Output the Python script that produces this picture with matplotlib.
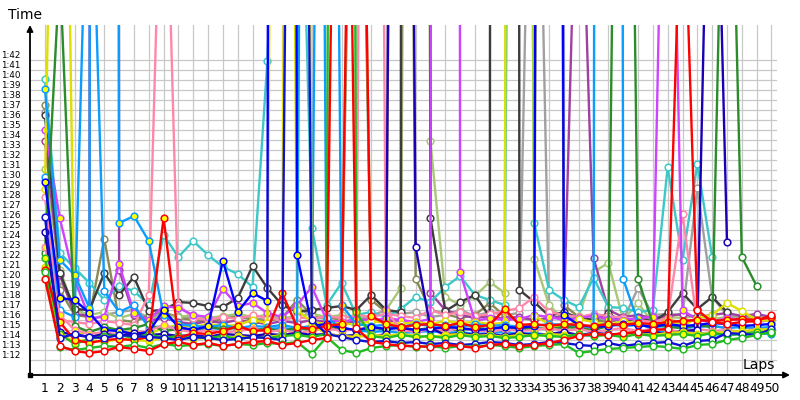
import numpy as np
import matplotlib
matplotlib.use('Agg')
import matplotlib.pyplot as plt

# lap times in seconds, one list per driver (None = retired)
laps = list(range(1, 51))

red_w = [80.1, 73.4, 72.9, 72.7, 72.9, 73.3, 73.1, 72.9, 73.6, 73.8,
         73.5, 73.7, 73.4, 73.6, 73.8, 73.9, 73.5, 73.7, 74.0, 74.2,
         185, 75.2, 73.8, 73.6, 73.4, 73.4, 73.3, 73.5, 73.4, 73.2,
         73.5, 73.6, 73.4, 73.5, 73.7, 74.0, 74.4, 74.6, 74.5, 74.7,
         74.8, 75.0, 75.1, 124, 77.0, 75.8, 75.6, 75.8, 75.9, 76.5]
red_y = [81.0, 75.8, 74.0, 73.7, 74.0, 74.1, 74.0, 74.3, 86.2, 74.2,
         74.7, 74.6, 74.9, 75.4, 74.9, 75.0, 78.7, 75.3, 75.1, 75.4,
         75.6, 176, 76.4, 75.6, 75.3, 75.5, 75.6, 75.4, 75.7, 75.3,
         75.5, 77.1, 75.5, 75.6, 75.4, 75.6, 75.5, 75.4, 75.6, 75.5,
         75.7, 75.6, 75.8, 75.9, 76.0, 75.9, 76.0, 76.1, 76.0, 76.3]
navy_w = [86.3, 74.2, 74.6, 74.3, 74.2, 74.5, 74.4, 74.3, 74.2, 74.0,
          74.3, 74.2, 74.0, 74.1, 74.3, 74.2, 74.0, 240, 76.0, 74.6,
          74.3, 74.0, 73.8, 73.9, 73.7, 73.8, 73.6, 73.7, 73.5, 73.6,
          73.8, 73.7, 73.5, 73.6, 73.8, 73.7, 73.5, 73.4, 73.7, 73.4,
          73.6, 73.7, 73.8, 73.4, 73.9, 74.0, 74.7, 74.6, 74.5, 75.1]
blue_y = [89.8, 78.2, 78.0, 76.7, 75.0, 74.9, 74.6, 74.8, 77.0, 75.3,
          75.0, 75.4, 81.9, 76.8, 78.7, 77.9, 900, 82.5, 75.4, 75.6,
          75.2, 75.0, 75.3, 75.1, 75.2, 75.0, 75.1, 75.3, 75.2, 75.0,
          75.1, 75.3, 75.2, 75.4, 600, 76.5, 75.5, 75.3, 75.4, 75.6,
          75.5, 75.3, 75.6, 75.4, 75.5, 75.7, 75.6, 75.4, 75.5, 75.6]
navy_2 = [84.8, 74.8, 74.5, 74.3, 74.6, 74.4, 74.7, 74.5, 74.6, 74.4,
          74.5, 74.3, 74.6, 74.5, 74.4, 74.6, 74.5, 74.7, 74.5, 74.6,
          74.4, 74.5, 74.3, 74.6, 300, 83.3, 75.2, 74.5, 74.7, 74.5,
          74.6, 74.4, 74.7, 74.5, 74.6, 74.8, 74.5, 74.7, 74.6, 74.5,
          74.7, 74.8, 74.6, 74.9, 75.0, 144, 83.8, None, None, None]
sky_w = [90.3, 77.0, 76.3, 130, 78.9, 76.8, 77.5, 75.2, 75.4, 75.1,
         75.0, 75.2, 75.1, 75.3, 75.0, 75.1, 75.2, 75.0, 300, 76.2,
         75.2, 75.0, 74.8, 74.9, 74.7, 74.8, 74.9, 74.7, 74.8, 74.6,
         74.7, 74.8, 74.6, 74.7, 74.5, 74.6, 74.4, 74.5, 900, 80.1,
         75.8, 75.0, 74.8, 74.9, 74.7, 74.6, 74.5, 74.6, 74.7, 74.6]
sky_y = [99.1, 82.0, 80.5, 77.2, 1500, 85.7, 86.4, 83.9, 76.5, 75.6,
         75.4, 75.3, 75.5, 75.2, 75.4, 75.3, 75.5, 75.2, 75.4, 250,
         77.5, 75.6, 75.4, 75.5, 75.3, 75.6, 75.4, 75.5, 75.3, 75.6,
         75.4, 75.5, 75.3, 75.4, 75.6, 75.5, 75.3, 75.4, 75.6, 75.4,
         75.5, 75.3, 75.4, 75.2, 75.3, 75.4, 75.2, 75.3, 75.2, 75.3]
green_w = [80.8, 73.3, 73.0, 73.2, 73.4, 73.3, 73.5, 73.2, 73.6, 73.4,
           73.5, 73.6, 73.4, 73.6, 73.5, 73.7, 73.6, 73.8, 72.6, 74.3,
           73.0, 72.7, 73.2, 73.4, 73.5, 73.3, 73.4, 73.2, 73.4, 73.3,
           73.5, 73.4, 73.2, 73.4, 73.5, 73.6, 72.7, 72.9, 73.1, 73.2,
           73.3, 73.4, 73.3, 73.1, 73.5, 73.6, 74.0, 74.2, 74.5, 74.8]
green_y = [82.2, 74.6, 73.6, 74.1, 74.4, 74.5, 74.2, 74.6, 74.2, 74.4,
           74.3, 74.2, 74.4, 74.1, 74.3, 74.2, 74.4, 74.5, 74.3, 74.6,
           500, 76.8, 74.4, 74.2, 74.5, 74.3, 74.4, 74.2, 74.5, 74.3,
           74.4, 74.2, 74.3, 74.5, 74.4, 74.3, 74.6, 74.4, 74.5, 74.3,
           74.6, 74.4, 74.5, 74.6, 74.4, 74.7, 74.5, 74.6, 74.8, 74.7]
dkgreen = [82.7, 111, 75.4, 74.8, 75.3, 75.0, 75.2, 75.6, 74.9, 75.1,
           75.0, 75.3, 75.1, 75.2, 75.0, 75.1, 74.9, 75.2, 75.0, 75.3,
           75.1, 75.0, 75.2, 75.1, 75.3, 75.0, 75.2, 75.1, 75.0, 75.2,
           75.1, 75.3, 75.0, 75.2, 75.1, 75.3, 75.2, 75.0, 75.4, 200,
           80.1, 75.6, 75.3, 75.2, 75.5, 75.3, 144, 82.3, 79.4, None]
yellow_w = [89.1, 175, 74.6, 74.8, 74.5, 74.7, 74.9, 74.6, 75.2, 75.5,
            75.3, 75.6, 75.4, 75.5, 76.0, 75.7, 300, 77.0, 75.8, 75.6,
            75.7, 75.5, 75.9, 75.7, 75.6, 75.8, 75.6, 75.9, 75.7, 75.8,
            75.6, 75.7, 600, 76.4, 75.6, 75.2, 76.1, 75.8, 75.5, 75.9,
            75.6, 75.3, 76.0, 75.4, 76.2, 76.5, 77.7, 76.9, 76.0, 75.9]
yellow_y = [81.3, 74.5, 73.9, 74.0, 73.8, 74.1, 74.0, 73.9, 74.2, 74.3,
            74.1, 74.2, 74.0, 74.4, 74.2, 74.3, 74.5, 400, 75.5, 74.6,
            74.4, 74.3, 74.5, 74.4, 74.6, 74.4, 74.3, 74.5, 74.6, 74.4,
            74.5, 74.3, 74.5, 74.4, 74.6, 74.5, 74.4, 74.6, 74.5, 74.4,
            74.6, 74.5, 74.7, 74.8, 74.6, 74.7, 74.8, 74.9, 75.0, 75.1]
dkgrey = [96.5, 80.7, 77.1, 77.0, 80.7, 78.5, 80.3, 76.9, 77.0, 77.8,
          77.7, 77.4, 77.3, 78.2, 81.4, 79.2, 77.5, 76.8, 77.0, 77.2,
          77.4, 77.0, 78.5, 77.0, 76.8, 2000, 86.2, 76.9, 77.8, 78.5,
          76.3, 2000, 79.0, 77.8, 76.4, 76.8, 76.2, 76.0, 76.7, 75.7,
          76.3, 75.8, 76.8, 78.7, 77.1, 78.3, 76.8, None, None, None]
grey = [96.8, 80.0, 77.5, 76.0, 76.5, 76.8, 77.0, 76.2, 76.6, 76.4,
        76.2, 76.0, 76.3, 76.5, 76.2, 76.0, 76.4, 77.4, 76.3, 76.1,
        76.5, 76.0, 76.4, 77.0, 76.6, 76.8, 76.3, 76.5, 77.0, 76.4,
        76.8, 76.5, 76.7, 150, 76.9, 76.5, 76.2, 75.8, 76.3, 76.0,
        79.2, 76.5, 76.6, 76.5, 89.2, 78.3, 76.5, 76.2, 76.4, 76.3]
olive = [97.5, 79.0, 76.5, 76.3, 84.1, 76.0, 75.8, 76.5, 76.8, 76.2,
         76.0, 75.8, 76.1, 76.4, 76.0, 75.9, 76.2, 78.0, 76.5, 76.3,
         76.0, 160, 78.0, 76.8, 260, 80.1, 77.0, 76.6, 76.2, 76.5,
         77.7, 76.4, 76.2, 76.0, 400, 77.5, 76.3, 76.0, 75.8, 76.1,
         75.9, 76.2, 76.0, 75.8, 76.1, 75.9, 76.2, 76.0, 75.9, 76.1]
ltgreen = [91.1, 81.0, 77.0, 76.5, 76.8, 76.2, 76.6, 76.0, 76.4, 76.3,
           76.5, 76.2, 76.4, 76.6, 76.3, 76.5, 76.2, 76.4, 76.6, 76.3,
           76.5, 170, 78.5, 77.0, 79.2, 300, 93.9, 78.3, 77.5, 78.4,
           79.8, 78.7, 500, 82.1, 77.5, 76.0, 76.4, 80.8, 81.7, 76.0,
           77.7, 75.7, 76.3, 76.2, 76.4, 76.1, 76.3, 76.0, 76.2, 76.4]
cyan = [100.1, 82.7, 81.2, 79.7, 78.0, 79.4, 78.9, 77.5, 84.5, 82.3,
        83.9, 82.5, 81.3, 80.6, 79.3, 101.9, 140, 140, 85.2, 77.5,
        79.7, 76.5, 76.8, 76.3, 77.1, 78.3, 77.8, 79.3, 80.4, 78.5,
        78.0, 77.5, 300, 85.7, 79.0, 78.0, 77.3, 80.2, 77.3, 77.2,
        76.8, 77.0, 91.3, 82.0, 91.6, 82.3, None, None, None, None]
purple = [93.9, 80.5, 76.6, 76.4, 2000, 81.0, 76.5, 75.9, 76.2, 75.8,
          75.6, 75.9, 75.7, 76.0, 75.8, 75.6, 75.9, 75.7, 76.0, 75.8,
          75.6, 75.9, 76.1, 75.8, 76.0, 2000, 78.7, 77.0, 76.5, 76.2,
          76.4, 76.1, 76.3, 76.0, 76.2, 76.4, 131, 82.2, 77.0, 76.3,
          76.5, 76.2, 76.4, 76.6, 76.3, 76.5, 76.7, 76.4, 76.6, 76.3]
violet_y = [95.0, 86.2, 80.0, 76.2, 76.3, 81.6, 76.7, 76.0, 77.4, 77.2,
            76.5, 76.3, 79.1, 77.4, 77.7, 76.7, 76.3, 77.5, 79.3, 76.0,
            75.8, 76.1, 75.9, 76.2, 76.0, 75.8, 76.1, 2000, 80.8, 75.9,
            76.2, 76.0, 76.1, 76.5, 76.3, 76.0, 76.2, 76.4, 76.1, 76.0,
            76.2, 76.3, 150, 77.0, 76.0, 75.8, 76.2, 76.0, 75.8, 76.0]
pink_w = [88.3, 76.0, 75.8, 75.6, 75.9, 75.7, 75.5, 78.5, 132, 77.5,
          76.2, 76.0, 76.3, 76.1, 76.5, 76.2, 76.0, 76.3, 76.1, 76.4,
          76.2, 76.5, 76.3, 76.6, 76.4, 76.2, 77.0, 76.5, 76.8, 76.4,
          76.6, 76.9, 77.2, 78.3, 76.8, 76.5, 76.3, 76.6, 76.4, 76.2,
          76.0, 75.8, 76.2, 86.6, 75.6, 75.4, 75.2, 75.4, 75.0, 74.8]
pink_y = [83.3, 76.5, 75.0, 74.6, 74.8, 74.5, 74.7, 74.9, 75.5, 75.0,
          74.8, 75.0, 74.7, 74.9, 75.1, 74.8, 75.0, 74.7, 74.9, 75.2,
          74.9, 75.1, 300, 77.0, 75.0, 74.8, 75.1, 74.9, 75.2, 75.0,
          74.8, 75.1, 74.9, 75.0, 75.2, 74.9, 75.1, 74.8, 75.0, 75.2,
          74.9, 75.1, 75.0, 74.8, 75.1, 74.9, 75.0, 74.8, 75.1, 74.9]

# (times, line colour, marker face)
drivers = [
    (grey, '#a0a0a0', 'white'),
    (olive, '#8a8a55', 'white'),
    (ltgreen, '#a8c878', 'white'),
    (purple, '#a040a0', 'white'),
    (cyan, '#3cc8c8', 'white'),
    (dkgrey, '#3c3c3c', 'white'),
    (pink_w, '#ff88aa', 'white'),
    (violet_y, '#cc44ff', '#ffff00'),
    (yellow_w, '#dede00', 'white'),
    (sky_w, '#0a9cff', 'white'),
    (sky_y, '#0a9cff', '#ffff00'),
    (dkgreen, '#2a8c2a', 'white'),
    (pink_y, '#ff88aa', '#ffff00'),
    (blue_y, '#0000ff', '#ffff00'),
    (navy_2, '#1a00b4', 'white'),
    (yellow_y, '#dede00', '#ffff00'),
    (green_y, '#22bb22', '#ffff00'),
    (red_y, '#ff0000', '#ffff00'),
    (navy_w, '#1010d0', 'white'),
    (green_w, '#22bb22', 'white'),
    (red_w, '#ff0000', 'white'),
]

fig = plt.figure(figsize=(8, 4), dpi=100)
ax = fig.add_axes([0.0375, 0.0625, 0.95, 0.875])
ax.set_xlim(-0.01, 51.25)
ax.set_ylim(70.5, 105.5)

# grid
for sec in range(72, 103):
    ax.plot([0, 50.3], [sec, sec], color='#c8c8c8', lw=0.9, zorder=0)
for lap in laps:
    ax.axvline(lap, color='#c8c8c8', lw=0.9, zorder=0)

for times, colour, face in drivers:
    ax.plot(laps, np.array(times, dtype=float), color=colour, lw=1.7,
            marker='o', ms=4.8, mfc=face, mec=colour, mew=1.1)

ax.set_xticks(laps)
ax.set_xticklabels([str(n) for n in laps], fontsize=8.7)
ax.set_yticks(range(72, 103))
ax.set_yticklabels(['1:%02d' % (s - 60) for s in range(72, 103)], fontsize=6.3)
for lab in ax.get_yticklabels():
    lab.set_va('bottom')
ax.tick_params(axis='x', length=0, pad=5)
ax.tick_params(axis='y', length=0, pad=7)
for side in ax.spines.values():
    side.set_visible(False)

arrow = dict(arrowstyle='-|>', lw=1.3, color='black', mutation_scale=9,
             shrinkA=0, shrinkB=0)
ax.annotate('', xy=(0, 1.0), xytext=(0, 0), xycoords='axes fraction',
            arrowprops=arrow, annotation_clip=False)
ax.annotate('', xy=(1.0, 0), xytext=(0, 0), xycoords='axes fraction',
            arrowprops=arrow, annotation_clip=False)
ax.plot([0], [0], marker='s', ms=3, color='black', transform=ax.transAxes,
        clip_on=False)

fig.text(25 / 800, 1 - 15 / 400, 'Time', fontsize=10, ha='center', va='center')
fig.text(759 / 800, 1 - 365 / 400, 'Laps', fontsize=10, ha='center', va='center')

fig.savefig('out.png', dpi=100)
